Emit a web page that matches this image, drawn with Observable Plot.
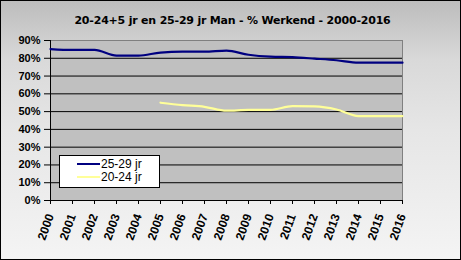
<!DOCTYPE html>
<html>
<head>
<meta charset="utf-8">
<script src="https://cdn.jsdelivr.net/npm/d3@7"></script>
<script src="https://cdn.jsdelivr.net/npm/@observablehq/plot@0.6"></script>
<style>
  html, body { margin: 0; padding: 0; }
  #wrap {
    position: relative; width: 461px; height: 260px; overflow: hidden;
    background: linear-gradient(to bottom, #bcbcbc 0%, #d9d9d9 23%, #e6e6e6 50%, #f4f4f4 100%);
    font-family: "Liberation Sans", Arial, sans-serif;
  }
  #border { position: absolute; left: 0; top: 0; width: 461px; height: 260px; box-sizing: border-box; border: 1px solid #000; pointer-events: none; z-index: 5; }
  #title { position: absolute; left: 2px; top: 14px; width: 461px; text-align: center; font-weight: bold; font-size: 11px; letter-spacing: -0.2px; font-family: "DejaVu Sans", Verdana, sans-serif; color: #000; }
  #chart { position: absolute; left: 0; top: 30px; }
  #legend { position: absolute; left: 59px; top: 155px; z-index: 3; }
</style>
</head>
<body>
<div id="wrap">
  <div id="title"></div>
  <div id="chart"></div>
  <div id="legend"></div>
  <div id="border"></div>
</div>
<script>
const titleText = "20-24+5 jr en 25-29 jr Man - % Werkend - 2000-2016";
const years = [2000, 2001, 2002, 2003, 2004, 2005, 2006, 2007, 2008, 2009, 2010, 2011, 2012, 2013, 2014, 2015, 2016];
const men2529 = [85.2, 84.7, 84.7, 81.5, 81.5, 83.2, 83.7, 83.7, 84.3, 82.0, 80.9, 80.6, 79.8, 78.9, 77.5, 77.5, 77.5];
const years2024 = [2005, 2006, 2007, 2008, 2009, 2010, 2011, 2012, 2013, 2014, 2015, 2016];
const men2024 = [55.0, 53.7, 52.7, 50.5, 51.0, 51.0, 53.1, 52.9, 51.2, 47.5, 47.5, 47.5];
const yTicks = [0, 10, 20, 30, 40, 50, 60, 70, 80, 90];
const gridTicks = [10, 20, 30, 40, 50, 60, 70, 80];
const seriesNames = ["25-29 jr", "20-24 jr"];
const seriesColors = ["#000080", "#ffff99"];

document.getElementById("title").textContent = titleText;

const d2529 = years.map((y, i) => ({year: y, value: men2529[i]}));
const d2024 = years2024.map((y, i) => ({year: y, value: men2024[i]}));

const chart = Plot.plot({
  width: 461,
  height: 230,
  marginLeft: 50,
  marginRight: 59,
  marginTop: 10,
  marginBottom: 60,
  style: {background: "transparent", fontFamily: "'Liberation Sans', Arial, sans-serif", fontSize: "11px", fontWeight: "bold", color: "#000", overflow: "visible"},
  x: {domain: [2000, 2016], type: "linear"},
  y: {domain: [0, 90]},
  marks: [
    Plot.frame({fill: "#c0c0c0", stroke: "#808080"}),
    Plot.ruleY(gridTicks, {stroke: "#000", strokeOpacity: 1}),
    Plot.ruleY([0], {stroke: "#000"}),
    Plot.ruleX([2000], {stroke: "#000"}),
    Plot.axisY({ticks: yTicks, tickFormat: d => d + "%", tickSize: 6, tickPadding: 4, stroke: "#000", fill: "#000", label: null}),
    Plot.axisX({ticks: years, tickFormat: d => String(d), tickSize: 4, tickPadding: 10, tickRotate: -70, fontSize: 12, stroke: "#000", fill: "#000", label: null}),
    Plot.line(d2529, {x: "year", y: "value", stroke: seriesColors[0], strokeWidth: 2.2, curve: "monotone-x"}),
    Plot.line(d2024, {x: "year", y: "value", stroke: seriesColors[1], strokeWidth: 2.2, curve: "monotone-x"})
  ]
});
document.getElementById("chart").appendChild(chart);

// legend
const lg = d3.select("#legend").append("svg").attr("width", 101).attr("height", 33);
lg.append("rect").attr("x", 0.5).attr("y", 0.5).attr("width", 100).attr("height", 32).attr("fill", "#fff").attr("stroke", "#000");
seriesNames.forEach((name, i) => {
  const cy = 9 + i * 13;
  lg.append("line").attr("x1", 18).attr("x2", 41).attr("y1", cy).attr("y2", cy).attr("stroke", seriesColors[i]).attr("stroke-width", 2);
  lg.append("text").attr("x", 42).attr("y", cy + 4).attr("font-family", "'Liberation Sans', Arial, sans-serif").attr("font-size", 12).attr("fill", "#000").text(name);
});
</script>
</body>
</html>
